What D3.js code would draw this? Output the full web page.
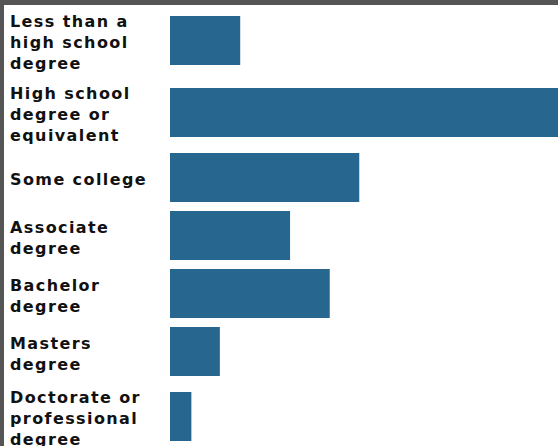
<!DOCTYPE html>
<html>
<head>
<meta charset="utf-8">
<script src="https://cdn.jsdelivr.net/npm/d3@7"></script>
<style>
  html, body { margin: 0; padding: 0; background: #555555; overflow: hidden; }
  svg { display: block; }
</style>
</head>
<body>
<svg id="chart" width="558" height="446"></svg>
<script>
// ---- Data ----
const categories = [
  "Less than a high school degree",
  "High school degree or equivalent",
  "Some college",
  "Associate degree",
  "Bachelor degree",
  "Masters degree",
  "Doctorate or professional degree"
];
const shares = [6.9, 40.0, 18.6, 11.8, 15.7, 4.9, 2.1];

// ---- Layout ----
const W = 558, H = 446;
const frameLeft = 4, frameTop = 5;
const labelX = 10, labelWrap = 150;
const barX = 170, barH = 49, lineH = 21, rowGap = 9, firstRowTop = 9;
const barColor = "#26668f";

const svg = d3.select("#chart");
svg.append("rect").attr("x", 0).attr("y", 0).attr("width", W).attr("height", H).attr("fill", "#555555");
svg.append("rect").attr("x", frameLeft).attr("y", frameTop).attr("width", W - frameLeft).attr("height", H - frameTop).attr("fill", "#ffffff");

const x = d3.scaleLinear().domain([0, 40]).range([0, 407]);

// measure & wrap labels
const measure = svg.append("text")
  .attr("font-family", "'DejaVu Sans', Verdana, sans-serif")
  .attr("font-weight", "bold").attr("font-size", 16)
  .attr("letter-spacing", 1.4);
function wrap(str) {
  const words = str.split(" ");
  const lines = [];
  let cur = "";
  words.forEach(w => {
    const t = cur ? cur + " " + w : w;
    measure.text(t);
    if (measure.node().getComputedTextLength() > labelWrap && cur) {
      lines.push(cur); cur = w;
    } else cur = t;
  });
  if (cur) lines.push(cur);
  return lines;
}
const rows = [];
let yTop = firstRowTop;
categories.forEach((c, i) => {
  const lines = wrap(c);
  const textH = lines.length * lineH;
  const rowH = Math.max(textH, barH);
  rows.push({ cat: c, value: shares[i], lines, top: yTop, rowH, textH });
  yTop += rowH + rowGap;
});
measure.remove();

const g = svg.selectAll("g.row").data(rows).join("g").attr("class", "row");

g.append("rect")
  .attr("x", barX)
  .attr("y", d => d.top + (d.rowH - barH) / 2)
  .attr("width", d => x(d.value))
  .attr("height", barH)
  .attr("fill", barColor);

g.append("text")
  .attr("font-family", "'DejaVu Sans', Verdana, sans-serif")
  .attr("font-weight", "bold").attr("font-size", 16)
  .attr("letter-spacing", 1.4)
  .attr("fill", "#111111")
  .each(function(d) {
    const t = d3.select(this);
    const top0 = d.top + (d.rowH - d.textH) / 2;
    d.lines.forEach((ln, j) => {
      t.append("tspan").attr("x", labelX).attr("y", top0 + j * lineH + 18).text(ln);
    });
  });
</script>
</body>
</html>
